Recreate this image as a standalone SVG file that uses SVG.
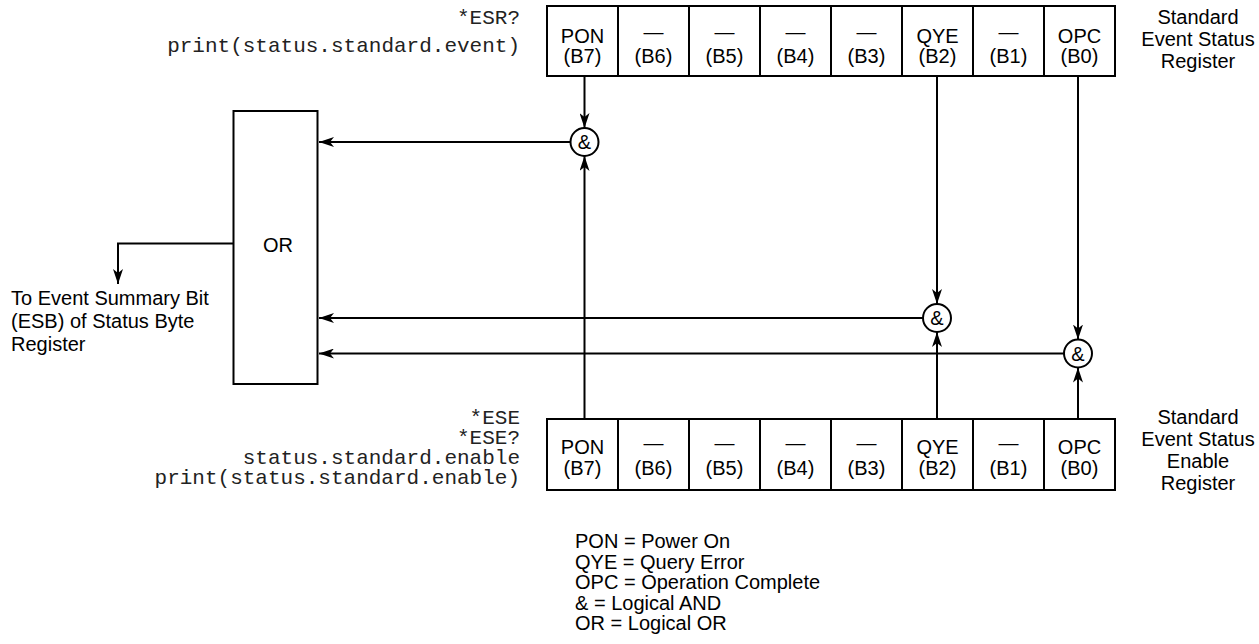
<svg xmlns="http://www.w3.org/2000/svg" width="1259" height="644" viewBox="0 0 1259 644">
<style>
.bx{fill:#fff;stroke:#000;stroke-width:2}
.ln{fill:none;stroke:#000;stroke-width:2}
.t{font-family:"Liberation Sans",Arial,sans-serif;font-size:20px;fill:#000}
.c{text-anchor:middle}
.m{font-family:"Liberation Mono","Courier New",monospace;font-size:21px;fill:#222;text-anchor:end}
.amp{font-family:"Liberation Sans",Arial,sans-serif;font-size:20px;fill:#000;text-anchor:middle}
</style>
<defs>
<marker id="arr" viewBox="0 0 15 10" refX="15" refY="5" markerWidth="15" markerHeight="10" orient="auto" markerUnits="userSpaceOnUse">
<path d="M0,0 L15,5 L0,10 L4,5 Z" fill="#000"/>
</marker>
</defs>
<rect width="1259" height="644" fill="#fff"/>

<g id="connectors">
<line class="ln" x1="584.5" y1="76" x2="584.5" y2="128" marker-end="url(#arr)"/>
<line class="ln" x1="584.5" y1="419" x2="584.5" y2="156" marker-end="url(#arr)"/>
<line class="ln" x1="937" y1="76" x2="937" y2="304" marker-end="url(#arr)"/>
<line class="ln" x1="937" y1="419" x2="937" y2="332" marker-end="url(#arr)"/>
<line class="ln" x1="1078" y1="76" x2="1078" y2="339.5" marker-end="url(#arr)"/>
<line class="ln" x1="1078" y1="419" x2="1078" y2="367.5" marker-end="url(#arr)"/>
<line class="ln" x1="570.5" y1="142" x2="319" y2="142" marker-end="url(#arr)"/>
<line class="ln" x1="923" y1="318" x2="319" y2="318" marker-end="url(#arr)"/>
<line class="ln" x1="1064" y1="353.5" x2="319" y2="353.5" marker-end="url(#arr)"/>
<polyline class="ln" points="233,243.5 118,243.5 118,284" marker-end="url(#arr)"/>
</g>

<g id="esr-register">
<rect class="bx" x="547" y="6" width="568" height="70"/>
<path class="ln" d="M618,6V76M689,6V76M760,6V76M831,6V76M902,6V76M973,6V76M1044,6V76"/>
<g class="t c">
<text x="582.5" y="43">PON</text><text x="582.5" y="63">(B7)</text>
<text x="653.5" y="39">—</text><text x="653.5" y="63">(B6)</text>
<text x="724.5" y="39">—</text><text x="724.5" y="63">(B5)</text>
<text x="795.5" y="39">—</text><text x="795.5" y="63">(B4)</text>
<text x="866.5" y="39">—</text><text x="866.5" y="63">(B3)</text>
<text x="937.5" y="43">QYE</text><text x="937.5" y="63">(B2)</text>
<text x="1008.5" y="39">—</text><text x="1008.5" y="63">(B1)</text>
<text x="1079.5" y="43">OPC</text><text x="1079.5" y="63">(B0)</text>
</g>
</g>
<g id="esr-label" class="t c">
<text x="1198" y="24">Standard</text>
<text x="1198" y="46">Event Status</text>
<text x="1198" y="68">Register</text>
</g>
<g id="esr-commands" class="m">
<text x="520" y="24">*ESR?</text>
<text x="520" y="52">print(status.standard.event)</text>
</g>

<g id="ese-register">
<rect class="bx" x="547" y="419" width="568" height="71"/>
<path class="ln" d="M618,419V490M689,419V490M760,419V490M831,419V490M902,419V490M973,419V490M1044,419V490"/>
<g class="t c">
<text x="582.5" y="454">PON</text><text x="582.5" y="475">(B7)</text>
<text x="653.5" y="450">—</text><text x="653.5" y="475">(B6)</text>
<text x="724.5" y="450">—</text><text x="724.5" y="475">(B5)</text>
<text x="795.5" y="450">—</text><text x="795.5" y="475">(B4)</text>
<text x="866.5" y="450">—</text><text x="866.5" y="475">(B3)</text>
<text x="937.5" y="454">QYE</text><text x="937.5" y="475">(B2)</text>
<text x="1008.5" y="450">—</text><text x="1008.5" y="475">(B1)</text>
<text x="1079.5" y="454">OPC</text><text x="1079.5" y="475">(B0)</text>
</g>
</g>
<g id="ese-label" class="t c">
<text x="1198" y="424">Standard</text>
<text x="1198" y="446">Event Status</text>
<text x="1198" y="468">Enable</text>
<text x="1198" y="490">Register</text>
</g>
<g id="ese-commands" class="m">
<text x="520" y="424">*ESE</text>
<text x="520" y="444">*ESE?</text>
<text x="520" y="464">status.standard.enable</text>
<text x="520" y="484">print(status.standard.enable)</text>
</g>

<g id="or-gate">
<rect class="bx" x="233.5" y="111" width="84" height="273"/>
<text class="t c" x="278" y="252">OR</text>
</g>

<g id="and-pon">
<circle class="bx" cx="584.5" cy="142" r="14"/>
<text class="amp" x="584.5" y="149">&amp;</text>
</g>
<g id="and-qye">
<circle class="bx" cx="937" cy="318" r="14"/>
<text class="amp" x="937" y="325">&amp;</text>
</g>
<g id="and-opc">
<circle class="bx" cx="1078" cy="353.5" r="14"/>
<text class="amp" x="1078" y="360.5">&amp;</text>
</g>

<g id="esb-label" class="t">
<text x="11" y="305">To Event Summary Bit</text>
<text x="11" y="328">(ESB) of Status Byte</text>
<text x="11" y="351">Register</text>
</g>

<g id="legend" class="t">
<text x="575" y="548">PON = Power On</text>
<text x="575" y="568.5">QYE = Query Error</text>
<text x="575" y="589">OPC = Operation Complete</text>
<text x="575" y="609.5">&amp; = Logical AND</text>
<text x="575" y="630">OR = Logical OR</text>
</g>
</svg>
